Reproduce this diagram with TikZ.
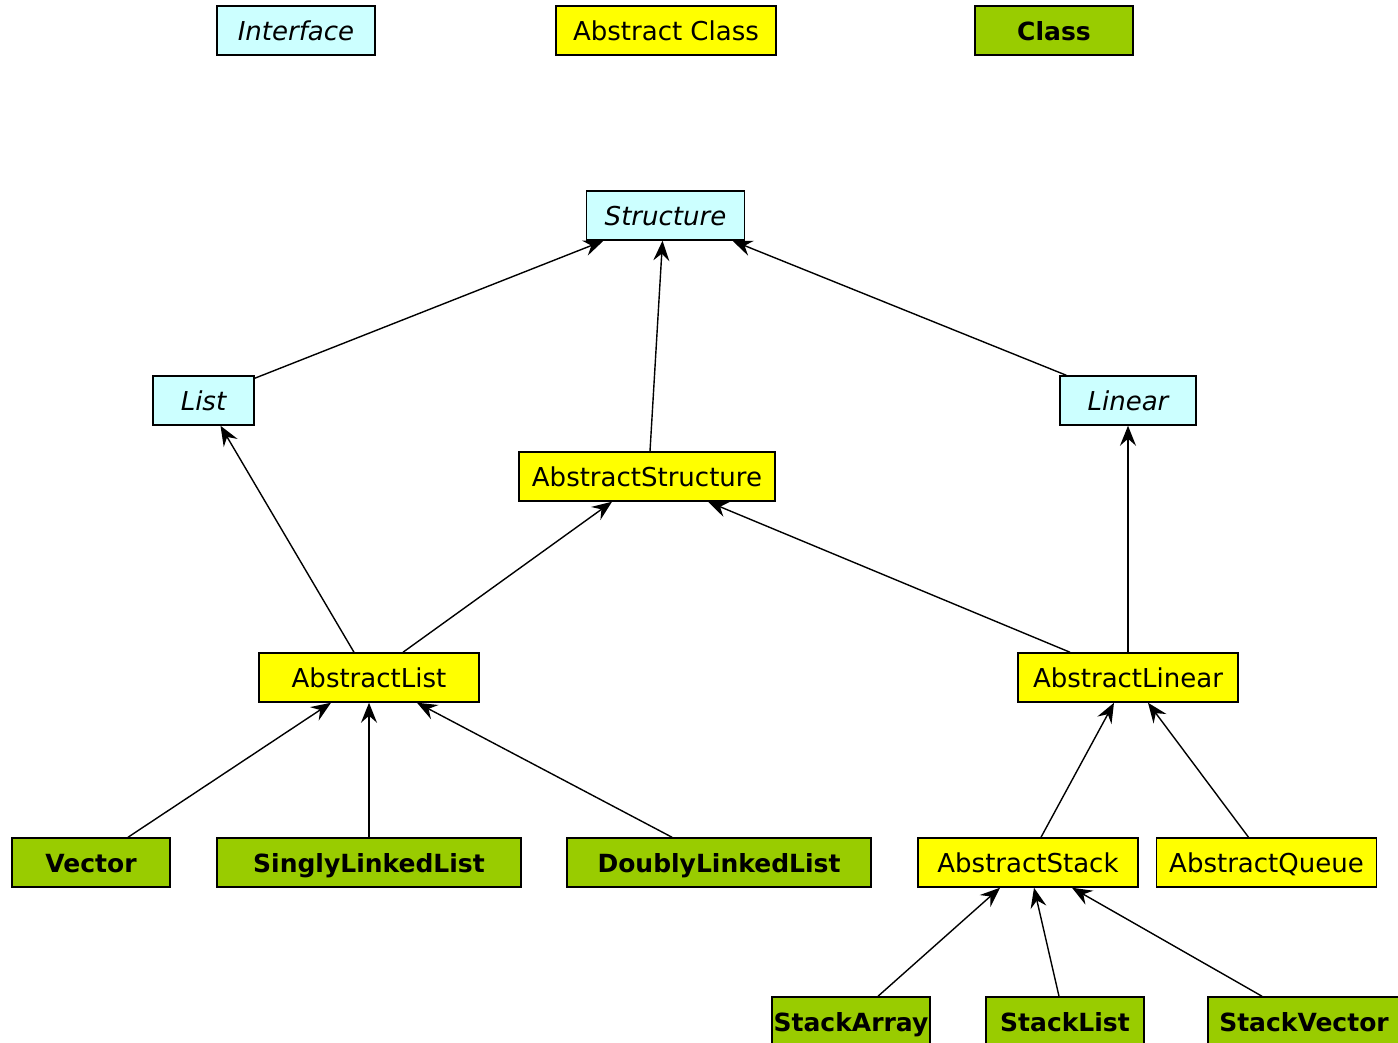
\documentclass[tikz,border=0pt]{standalone}
\usepackage{fontspec}
\setmainfont{DejaVu Sans}
\usetikzlibrary{arrows.meta,calc}

\begin{document}
\begin{tikzpicture}[x=0.5pt,y=-0.5pt,line cap=rect]
\definecolor{custcol_0_0_0}{RGB}{0, 0, 0}
\definecolor{custcol_cc_ff_ff}{RGB}{204, 255, 255}
\definecolor{custcol_ff_ff_00}{RGB}{255, 255, 0}
\definecolor{custcol_99_cc_00}{RGB}{153, 204, 0}
\tikzset{
  umlbox/.style={draw=custcol_0_0_0, line width=0.75pt, inner sep=0pt, minimum height=24.5pt, text height=10pt, text depth=0pt},
  iface/.style={umlbox, fill=custcol_cc_ff_ff, font=\fontsize{13pt}{13pt}\selectfont\itshape},
  absclass/.style={umlbox, fill=custcol_ff_ff_00, font=\fontsize{13pt}{13pt}\selectfont},
  concrete/.style={umlbox, fill=custcol_99_cc_00, font=\fontsize{12.5pt}{12.5pt}\selectfont\bfseries},
  inherit/.style={line width=0.7pt, line cap=butt, custcol_0_0_0, -{Stealth[length=10pt,width=8pt,inset=3.5pt]}}
}
\clip (0,0) rectangle (1398,1043);
% legend
\node[iface, minimum width=79pt] (legiface) at (296,30.5) {Interface};
\node[absclass, minimum width=110pt] (legabs) at (666,30.5) {Abstract Class};
\node[concrete, minimum width=79pt] (legclass) at (1054,30.5) {Class};
% interfaces
\node[iface, minimum width=79pt] (structure) at (665.5,215.5) {Structure};
\node[iface, minimum width=50.5pt] (list) at (203.5,400.5) {List};
\node[iface, minimum width=68pt] (linear) at (1128,400.5) {Linear};
% abstract classes
\node[absclass, minimum width=128pt] (abstractstructure) at (647,476.5) {AbstractStructure};
\node[absclass, minimum width=110pt] (abstractlist) at (369,677.5) {AbstractList};
\node[absclass, minimum width=110pt] (abstractlinear) at (1128,677.5) {AbstractLinear};
\node[absclass, minimum width=110pt] (abstractstack) at (1028,862.5) {AbstractStack};
\node[absclass, minimum width=110pt] (abstractqueue) at (1266.5,862.5) {AbstractQueue};
% classes
\node[concrete, minimum width=79pt] (vector) at (91,862.5) {Vector};
\node[concrete, minimum width=152pt] (singlylinkedlist) at (369,862.5) {SinglyLinkedList};
\node[concrete, minimum width=152pt] (doublylinkedlist) at (719,862.5) {DoublyLinkedList};
\node[concrete, minimum width=79pt] (stackarray) at (851,1021.5) {StackArray};
\node[concrete, minimum width=79pt] (stacklist) at (1065,1021.5) {StackList};
\node[concrete, minimum width=96pt] (stackvector) at (1304,1021.5) {StackVector};
% inheritance arrows
\draw[inherit] ($(list.north east)+(0,3)$) -- ($(structure.south)+(-62,0)$);
\draw[inherit] ($(abstractstructure.north)+(3,0)$) -- ($(structure.south)+(-3,0)$);
\draw[inherit] ($(linear.north west)+(7,0)$) -- ($(structure.south)+(67,0)$);
\draw[inherit] ($(abstractlist.north)+(-15,0)$) -- ($(list.south)+(17,0)$);
\draw[inherit] ($(abstractlist.north)+(34,0)$) -- ($(abstractstructure.south)+(-35,0)$);
\draw[inherit] ($(abstractlinear.north)+(-58,0)$) -- ($(abstractstructure.south)+(61,0)$);
\draw[inherit] (abstractlinear.north) -- (linear.south);
\draw[inherit] ($(vector.north)+(37,0)$) -- ($(abstractlist.south)+(-38,0)$);
\draw[inherit] (singlylinkedlist.north) -- (abstractlist.south);
\draw[inherit] ($(doublylinkedlist.north)+(-47,0)$) -- ($(abstractlist.south)+(48,0)$);
\draw[inherit] ($(abstractstack.north)+(13,0)$) -- ($(abstractlinear.south)+(-14,0)$);
\draw[inherit] ($(abstractqueue.north)+(-18,0)$) -- ($(abstractlinear.south)+(20,0)$);
\draw[inherit] ($(stackarray.north)+(27,0)$) -- ($(abstractstack.south)+(-28,0)$);
\draw[inherit] ($(stacklist.north)+(-6,0)$) -- ($(abstractstack.south)+(6,0)$);
\draw[inherit] ($(stackvector.north)+(-42,0)$) -- ($(abstractstack.south)+(44,0)$);
\end{tikzpicture}
\end{document}
